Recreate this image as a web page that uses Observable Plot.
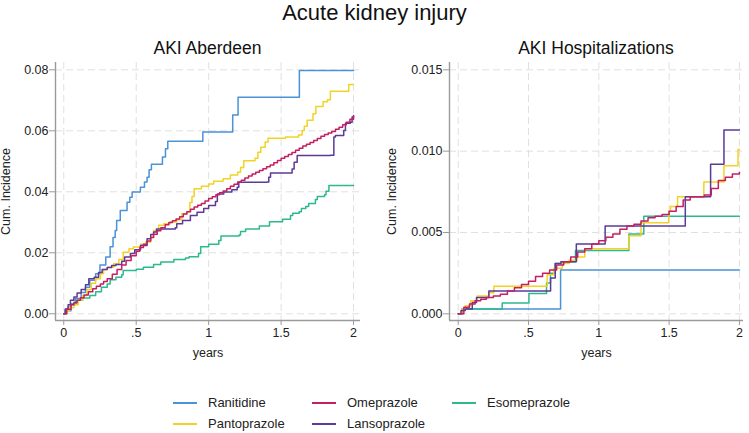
<!DOCTYPE html>
<html><head><meta charset="utf-8">
<script src="https://cdn.jsdelivr.net/npm/d3@7"></script>
<script src="https://cdn.jsdelivr.net/npm/@observablehq/plot@0.6"></script>
<style>
body{margin:0;background:#fff;font-family:"Liberation Sans",Arial,sans-serif;}
#wrap{position:relative;width:749px;height:433px;overflow:hidden;background:#fff;}
.abs{position:absolute;white-space:nowrap;}
</style></head><body><div id="wrap"></div>
<script>
// ---------- data ----------
const drugs = ["Ranitidine","Omeprazole","Esomeprazole","Pantoprazole","Lansoprazole"];
const colors = ["#4a93d6","#c41f62","#2db98f","#f2d325","#5b3a98"];
const drawOrder = ["Ranitidine","Esomeprazole","Pantoprazole","Lansoprazole","Omeprazole"];

const titleText = "Acute kidney injury";
const panelTitles = ["AKI Aberdeen","AKI Hospitalizations"];
const xLabel = "years";
const yLabel = "Cum. Incidence";
const xTicks = [0,0.5,1,1.5,2];
const xTickLabels = ["0",".5","1","1.5","2"];
const yTicksAb = [0,0.02,0.04,0.06,0.08];
const yTickLabelsAb = ["0.00","0.02","0.04","0.06","0.08"];
const yTicksHo = [0,0.005,0.01,0.015];
const yTickLabelsHo = ["0.000","0.005","0.010","0.015"];

// AKI Aberdeen: [years, cumulative incidence]
const abRanitidine = [[0,0],[0.02,0.001],[0.05,0.003],[0.08,0.005],[0.12,0.007],[0.15,0.0087],[0.18,0.011],[0.22,0.0131],[0.25,0.016],[0.29,0.0186],[0.32,0.022],[0.34,0.025],[0.355,0.0273],[0.365,0.0306],[0.39,0.0339],[0.437,0.0366],[0.456,0.0382],[0.472,0.0399],[0.529,0.0415],[0.557,0.0432],[0.575,0.0448],[0.589,0.0472],[0.605,0.049],[0.681,0.0514],[0.702,0.0541],[0.718,0.0566],[0.96,0.0596],[1.166,0.0652],[1.203,0.071],[1.626,0.0798],[2.0,0.0798]];
const abOmeprazole = [[0,0],[0.02,0.0015],[0.05,0.003],[0.07,0.0037],[0.092,0.0044],[0.115,0.0053],[0.14,0.0062],[0.17,0.0072],[0.2,0.0082],[0.225,0.009],[0.253,0.0098],[0.275,0.0106],[0.3,0.0115],[0.335,0.013],[0.368,0.0145],[0.4,0.016],[0.43,0.0175],[0.465,0.019],[0.5,0.0205],[0.525,0.0217],[0.55,0.0228],[0.575,0.0239],[0.6,0.025],[0.62,0.0261],[0.645,0.0272],[0.67,0.0282],[0.7,0.0292],[0.725,0.0299],[0.75,0.0305],[0.775,0.0311],[0.8,0.0318],[0.825,0.0327],[0.85,0.0335],[0.875,0.0343],[0.9,0.035],[0.925,0.0356],[0.95,0.0362],[0.975,0.037],[1.0,0.0378],[1.025,0.0384],[1.05,0.039],[1.075,0.0397],[1.1,0.0403],[1.125,0.041],[1.15,0.0418],[1.175,0.0425],[1.2,0.0432],[1.225,0.0438],[1.25,0.0445],[1.275,0.0452],[1.3,0.0458],[1.325,0.0464],[1.35,0.047],[1.375,0.0476],[1.4,0.0482],[1.425,0.0488],[1.45,0.0495],[1.475,0.0503],[1.5,0.051],[1.525,0.0516],[1.55,0.0522],[1.575,0.0529],[1.6,0.0536],[1.625,0.0543],[1.65,0.055],[1.675,0.0556],[1.7,0.0562],[1.725,0.0568],[1.75,0.0575],[1.775,0.0582],[1.8,0.0588],[1.825,0.0593],[1.85,0.0598],[1.875,0.0605],[1.9,0.0612],[1.925,0.062],[1.95,0.0628],[1.975,0.0638],[2.0,0.0648]];
const abEsomeprazole = [[0,0],[0.01,0.0011],[0.03,0.0022],[0.05,0.0033],[0.09,0.0044],[0.13,0.0052],[0.18,0.006],[0.22,0.0072],[0.26,0.0087],[0.3,0.0098],[0.32,0.0112],[0.36,0.012],[0.4,0.0128],[0.41,0.0142],[0.5,0.0146],[0.55,0.0153],[0.62,0.0162],[0.67,0.017],[0.76,0.0178],[0.84,0.0183],[0.865,0.0187],[0.93,0.0198],[0.945,0.022],[1.0,0.0228],[1.07,0.024],[1.085,0.0255],[1.21,0.0258],[1.22,0.027],[1.255,0.0278],[1.35,0.0288],[1.42,0.0302],[1.51,0.031],[1.565,0.0322],[1.58,0.033],[1.625,0.0335],[1.64,0.0345],[1.67,0.0352],[1.69,0.0362],[1.737,0.0375],[1.75,0.0385],[1.8,0.039],[1.81,0.0402],[1.83,0.0421],[2.0,0.0421]];
const abPantoprazole = [[0,0],[0.02,0.001],[0.04,0.002],[0.07,0.003],[0.1,0.0045],[0.13,0.006],[0.16,0.008],[0.19,0.01],[0.22,0.0115],[0.253,0.0131],[0.275,0.0145],[0.3,0.0153],[0.345,0.0164],[0.38,0.0178],[0.41,0.0202],[0.45,0.0213],[0.48,0.0219],[0.53,0.0228],[0.565,0.0235],[0.6,0.0251],[0.62,0.0273],[0.655,0.029],[0.69,0.0295],[0.735,0.0301],[0.78,0.0308],[0.815,0.0328],[0.85,0.0335],[0.87,0.0365],[0.885,0.0385],[0.9,0.041],[0.95,0.0418],[1.0,0.0426],[1.035,0.0435],[1.1,0.0443],[1.15,0.0455],[1.2,0.0464],[1.22,0.048],[1.242,0.0502],[1.32,0.051],[1.34,0.053],[1.36,0.0546],[1.39,0.0563],[1.41,0.0576],[1.53,0.058],[1.62,0.0586],[1.645,0.0601],[1.66,0.0615],[1.68,0.0635],[1.72,0.0656],[1.74,0.068],[1.79,0.0695],[1.82,0.0702],[1.84,0.073],[1.967,0.0752],[2.0,0.0752]];
const abLansoprazole = [[0,0],[0.01,0.0016],[0.03,0.003],[0.046,0.0044],[0.07,0.0055],[0.092,0.0068],[0.12,0.008],[0.15,0.0095],[0.173,0.0115],[0.21,0.012],[0.24,0.0135],[0.265,0.0145],[0.3,0.0152],[0.33,0.0158],[0.36,0.0162],[0.4,0.0172],[0.42,0.0186],[0.46,0.0198],[0.49,0.021],[0.53,0.0224],[0.575,0.0246],[0.6,0.026],[0.62,0.0268],[0.64,0.0278],[0.77,0.0282],[0.78,0.0295],[0.82,0.0306],[0.874,0.0322],[0.92,0.0333],[0.966,0.0345],[1.0,0.0355],[1.047,0.0368],[1.06,0.0393],[1.104,0.0399],[1.16,0.0407],[1.197,0.0415],[1.208,0.0431],[1.403,0.0432],[1.415,0.0448],[1.427,0.0462],[1.576,0.0475],[1.59,0.0497],[1.611,0.0519],[1.84,0.052],[1.864,0.058],[1.875,0.0585],[1.932,0.0601],[1.944,0.0625],[1.978,0.0628],[1.99,0.0645],[2.0,0.065]];

// AKI Hospitalizations
const hoRanitidine = [[0,0],[0.025,0.0003],[0.728,0.0027],[2.0,0.0027]];
const hoOmeprazole = [[0,0],[0.04,0.0004],[0.08,0.0006],[0.12,0.0008],[0.16,0.0009],[0.2,0.001],[0.25,0.0011],[0.3,0.0012],[0.35,0.0014],[0.4,0.0016],[0.45,0.0018],[0.5,0.002],[0.55,0.0023],[0.6,0.0025],[0.65,0.0027],[0.7,0.003],[0.75,0.0032],[0.8,0.0035],[0.85,0.0038],[0.9,0.004],[0.95,0.0043],[1.0,0.0045],[1.05,0.0047],[1.1,0.0049],[1.15,0.0052],[1.2,0.0054],[1.25,0.0055],[1.3,0.0057],[1.35,0.0059],[1.4,0.006],[1.45,0.0061],[1.5,0.0063],[1.55,0.0066],[1.6,0.007],[1.65,0.0072],[1.7,0.0072],[1.75,0.0073],[1.8,0.0077],[1.85,0.0082],[1.9,0.0084],[1.95,0.0086],[2.0,0.0087]];
const hoEsomeprazole = [[0,0],[0.03,0.0003],[0.313,0.00066],[0.503,0.00125],[0.628,0.0019],[0.656,0.0025],[0.69,0.0031],[0.745,0.0032],[0.834,0.0039],[1.214,0.0049],[1.32,0.006],[2.0,0.006]];
const hoPantoprazole = [[0,0],[0.025,0.0003],[0.05,0.0005],[0.088,0.0008],[0.135,0.0011],[0.218,0.0013],[0.254,0.0017],[0.633,0.0024],[0.68,0.0028],[0.74,0.0031],[0.79,0.0033],[0.846,0.0035],[0.9,0.004],[1.214,0.0048],[1.3,0.0056],[1.497,0.0063],[1.51,0.0066],[1.56,0.0072],[1.747,0.0081],[1.89,0.0091],[1.99,0.0101],[2.0,0.0101]];
const hoLansoprazole = [[0,0],[0.02,0.0002],[0.05,0.0003],[0.1,0.0007],[0.13,0.001],[0.218,0.0014],[0.657,0.0022],[0.69,0.0031],[0.73,0.0032],[0.84,0.0043],[1.045,0.0054],[1.615,0.0072],[1.795,0.0092],[1.89,0.0113],[2.0,0.0113]];

const abSeries = {Ranitidine: abRanitidine, Omeprazole: abOmeprazole, Esomeprazole: abEsomeprazole, Pantoprazole: abPantoprazole, Lansoprazole: abLansoprazole};
const hoSeries = {Ranitidine: hoRanitidine, Omeprazole: hoOmeprazole, Esomeprazole: hoEsomeprazole, Pantoprazole: hoPantoprazole, Lansoprazole: hoLansoprazole};

function toRows(series) {
  return drawOrder.flatMap(d => series[d].map(([t, y]) => ({drug: d, t, y})));
}

const font = '"Liberation Sans", Arial, sans-serif';
const wrap = document.getElementById("wrap");

function addText(txt, css) {
  const el = document.createElement("div");
  el.className = "abs";
  el.textContent = txt;
  Object.assign(el.style, css);
  wrap.appendChild(el);
  return el;
}

function panel(rows, cfg) {
  const fmtX = d => xTickLabels[xTicks.indexOf(d)];
  const fmtY = d => cfg.yLabels[cfg.yTicks.indexOf(d)];
  const gridStyle = {stroke: "#e0e0e0", strokeOpacity: 1, strokeWidth: 1, strokeDasharray: "7,4"};
  const p = Plot.plot({
    width: cfg.width, height: 335,
    marginLeft: cfg.ml, marginRight: cfg.mr, marginTop: 32, marginBottom: 45,
    style: {fontFamily: font, fontSize: "12.5px", color: "#222", background: "transparent", overflow: "visible"},
    x: {domain: cfg.xDomain},
    y: {domain: cfg.yDomain},
    color: {domain: drugs, range: colors},
    marks: [
      Plot.gridX(xTicks, gridStyle),
      Plot.gridY(cfg.yTicks, gridStyle),
      Plot.ruleX([cfg.xDomain[0]], {stroke: "#9a9a9a", strokeWidth: 1.4}),
      Plot.ruleY([cfg.yDomain[0]], {stroke: "#9a9a9a", strokeWidth: 1.4}),
      Plot.axisX(xTicks, {tickFormat: fmtX, tickSize: 5, tickPadding: 3, stroke: "#9a9a9a", fill: "#222", fontSize: 12.5,
        label: xLabel, labelAnchor: "center", labelArrow: "none", labelOffset: 36}),
      Plot.axisY(cfg.yTicks, {tickFormat: fmtY, tickSize: 6, tickPadding: 1, stroke: "#9a9a9a", fill: "#222", fontSize: 12.5,
        label: yLabel, labelAnchor: "center", labelArrow: "none", labelOffset: cfg.lo}),
      Plot.line(rows, {x: "t", y: "y", z: "drug", stroke: "drug", curve: "step-after", strokeWidth: 1.5})
    ]
  });
  p.style.position = "absolute";
  p.style.left = cfg.left + "px";
  p.style.top = "30px";
  wrap.appendChild(p);
}

panel(toRows(abSeries), {left: 0, width: 374, ml: 55, mr: 14, lo: 54,
  xDomain: [-0.057, 2.048], yDomain: [-0.0022, 0.0824], yTicks: yTicksAb, yLabels: yTickLabelsAb});
panel(toRows(hoSeries), {left: 374, width: 375, ml: 75, mr: 6, lo: 62,
  xDomain: [-0.062, 2.029], yDomain: [-0.00041, 0.01545], yTicks: yTicksHo, yLabels: yTickLabelsHo});

// titles
addText(titleText, {left: "0px", width: "749px", top: "0px", textAlign: "center", fontSize: "22px", lineHeight: "25px", color: "#111"});
addText(panelTitles[0], {left: "55px", width: "305px", top: "40px", textAlign: "center", fontSize: "17.5px", lineHeight: "17px", color: "#111"});
addText(panelTitles[1], {left: "449px", width: "294px", top: "40px", textAlign: "center", fontSize: "17.5px", lineHeight: "17px", color: "#111"});

// legend
const legendCols = [173, 312, 452];
const legendRows = [403, 424];
drugs.forEach((d, i) => {
  const c = i % 3, r = Math.floor(i / 3);
  const sw = document.createElement("div");
  sw.className = "abs";
  Object.assign(sw.style, {left: legendCols[c] + "px", top: (legendRows[r] - 1) + "px", width: "24px", height: "2px", background: colors[i]});
  wrap.appendChild(sw);
  addText(d, {left: (legendCols[c] + 35) + "px", top: (legendRows[r] - 8) + "px", fontSize: "13px", lineHeight: "15px", color: "#222"});
});
</script></body></html>
